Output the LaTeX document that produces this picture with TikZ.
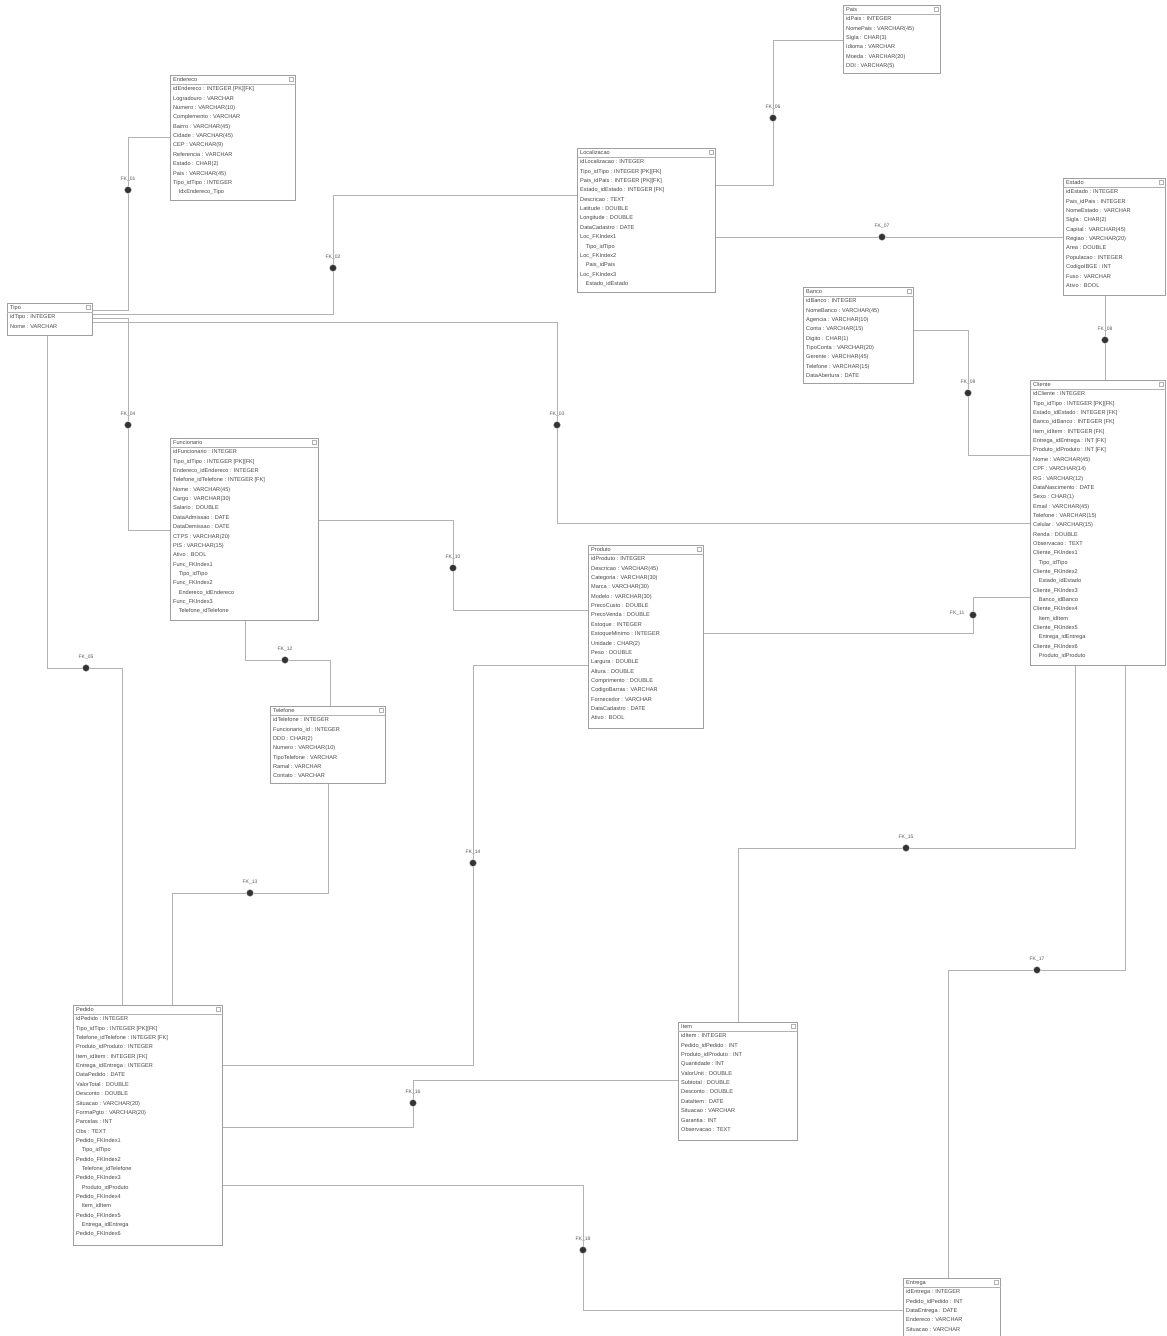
\documentclass[tikz,border=0pt]{standalone}
\usepackage{fontspec}
\setmainfont{Liberation Sans}
\begin{document}
\begin{tikzpicture}[x=1pt,y=-1pt,
  tblbox/.style={draw=gray!75, fill=white, line width=0.7pt, inner sep=0pt},
  tbltext/.style={align=left, inner sep=1pt, text=black!72, font=\fontsize{5.6}{9.35}\selectfont},
  tbltitle/.style={inner sep=1pt, text=black!72, font=\fontsize{5.6}{6}\selectfont},
  conn/.style={draw=gray!60, line width=0.7pt},
  mk/.style={circle, fill=black!80, draw=gray!40, minimum size=7pt, inner sep=0pt},
  mklabel/.style={font=\fontsize{5}{5.5}\selectfont, text=black!65, inner sep=0.5pt}]
\useasboundingbox (0,0) rectangle (1167,1336);
\fill[white] (0,0) rectangle (1167,1336);
\newcommand{\ertable}[7]{%
  \node[tblbox, minimum width=#4pt, minimum height=#5pt, anchor=north west] (#1) at (#2,#3) {};
  \draw[gray!60, line width=0.4pt] ([yshift=-9pt]#1.north west) -- ([yshift=-9pt]#1.north east);
  \draw[gray!60, line width=0.4pt] ([xshift=-7pt,yshift=-2pt]#1.north east) rectangle ++(4.5pt,-4.5pt);
  \node[tbltitle, anchor=north west] (#1-h) at ([xshift=2pt,yshift=-1.2pt]#1.north west) {#6};
  \node[tbltext, anchor=north west] (#1-t) at ([xshift=2pt,yshift=-10.6pt]#1.north west) {#7};}

% ---------------- tables ----------------
\ertable{tipo}{7}{303}{85}{32}{Tipo}{idTipo : INTEGER\\Nome : VARCHAR}
\ertable{endr}{170}{75}{125}{125}{Endereco}{idEndereco : INTEGER [PK][FK]\\Logradouro : VARCHAR\\Numero : VARCHAR(10)\\Complemento : VARCHAR\\Bairro : VARCHAR(45)\\Cidade : VARCHAR(45)\\CEP : VARCHAR(9)\\Referencia : VARCHAR\\Estado : CHAR(2)\\Pais : VARCHAR(45)\\Tipo\_idTipo : INTEGER\\\quad IdxEndereco\_Tipo}
\ertable{loc}{577}{148}{138}{144}{Localizacao}{idLocalizacao : INTEGER\\Tipo\_idTipo : INTEGER [PK][FK]\\Pais\_idPais : INTEGER [PK][FK]\\Estado\_idEstado : INTEGER [FK]\\Descricao : TEXT\\Latitude : DOUBLE\\Longitude : DOUBLE\\DataCadastro : DATE\\Loc\_FKIndex1\\\quad Tipo\_idTipo\\Loc\_FKIndex2\\\quad Pais\_idPais\\Loc\_FKIndex3\\\quad Estado\_idEstado}
\ertable{pais}{843}{5}{97}{68}{Pais}{idPais : INTEGER\\NomePais : VARCHAR(45)\\Sigla : CHAR(3)\\Idioma : VARCHAR\\Moeda : VARCHAR(20)\\DDI : VARCHAR(5)}
\ertable{est}{1063}{178}{102}{117}{Estado}{idEstado : INTEGER\\Pais\_idPais : INTEGER\\NomeEstado : VARCHAR\\Sigla : CHAR(2)\\Capital : VARCHAR(45)\\Regiao : VARCHAR(20)\\Area : DOUBLE\\Populacao : INTEGER\\CodigoIBGE : INT\\Fuso : VARCHAR\\Ativo : BOOL}
\ertable{banco}{803}{287}{110}{96}{Banco}{idBanco : INTEGER\\NomeBanco : VARCHAR(45)\\Agencia : VARCHAR(10)\\Conta : VARCHAR(15)\\Digito : CHAR(1)\\TipoConta : VARCHAR(20)\\Gerente : VARCHAR(45)\\Telefone : VARCHAR(15)\\DataAbertura : DATE}
\ertable{cli}{1030}{380}{135}{285}{Cliente}{idCliente : INTEGER\\Tipo\_idTipo : INTEGER [PK][FK]\\Estado\_idEstado : INTEGER [FK]\\Banco\_idBanco : INTEGER [FK]\\Item\_idItem : INTEGER [FK]\\Entrega\_idEntrega : INT [FK]\\Produto\_idProduto : INT [FK]\\Nome : VARCHAR(45)\\CPF : VARCHAR(14)\\RG : VARCHAR(12)\\DataNascimento : DATE\\Sexo : CHAR(1)\\Email : VARCHAR(45)\\Telefone : VARCHAR(15)\\Celular : VARCHAR(15)\\Renda : DOUBLE\\Observacao : TEXT\\Cliente\_FKIndex1\\\quad Tipo\_idTipo\\Cliente\_FKIndex2\\\quad Estado\_idEstado\\Cliente\_FKIndex3\\\quad Banco\_idBanco\\Cliente\_FKIndex4\\\quad Item\_idItem\\Cliente\_FKIndex5\\\quad Entrega\_idEntrega\\Cliente\_FKIndex6\\\quad Produto\_idProduto}
\ertable{func}{170}{438}{148}{182}{Funcionario}{idFuncionario : INTEGER\\Tipo\_idTipo : INTEGER [PK][FK]\\Endereco\_idEndereco : INTEGER\\Telefone\_idTelefone : INTEGER [FK]\\Nome : VARCHAR(45)\\Cargo : VARCHAR(30)\\Salario : DOUBLE\\DataAdmissao : DATE\\DataDemissao : DATE\\CTPS : VARCHAR(20)\\PIS : VARCHAR(15)\\Ativo : BOOL\\Func\_FKIndex1\\\quad Tipo\_idTipo\\Func\_FKIndex2\\\quad Endereco\_idEndereco\\Func\_FKIndex3\\\quad Telefone\_idTelefone}
\ertable{prod}{588}{545}{115}{183}{Produto}{idProduto : INTEGER\\Descricao : VARCHAR(45)\\Categoria : VARCHAR(30)\\Marca : VARCHAR(30)\\Modelo : VARCHAR(30)\\PrecoCusto : DOUBLE\\PrecoVenda : DOUBLE\\Estoque : INTEGER\\EstoqueMinimo : INTEGER\\Unidade : CHAR(2)\\Peso : DOUBLE\\Largura : DOUBLE\\Altura : DOUBLE\\Comprimento : DOUBLE\\CodigoBarras : VARCHAR\\Fornecedor : VARCHAR\\DataCadastro : DATE\\Ativo : BOOL}
\ertable{tel}{270}{706}{115}{77}{Telefone}{idTelefone : INTEGER\\Funcionario\_id : INTEGER\\DDD : CHAR(2)\\Numero : VARCHAR(10)\\TipoTelefone : VARCHAR\\Ramal : VARCHAR\\Contato : VARCHAR}
\ertable{ped}{73}{1005}{149}{240}{Pedido}{idPedido : INTEGER\\Tipo\_idTipo : INTEGER [PK][FK]\\Telefone\_idTelefone : INTEGER [FK]\\Produto\_idProduto : INTEGER\\Item\_idItem : INTEGER [FK]\\Entrega\_idEntrega : INTEGER\\DataPedido : DATE\\ValorTotal : DOUBLE\\Desconto : DOUBLE\\Situacao : VARCHAR(20)\\FormaPgto : VARCHAR(20)\\Parcelas : INT\\Obs : TEXT\\Pedido\_FKIndex1\\\quad Tipo\_idTipo\\Pedido\_FKIndex2\\\quad Telefone\_idTelefone\\Pedido\_FKIndex3\\\quad Produto\_idProduto\\Pedido\_FKIndex4\\\quad Item\_idItem\\Pedido\_FKIndex5\\\quad Entrega\_idEntrega\\Pedido\_FKIndex6}
\ertable{item}{678}{1022}{119}{118}{Item}{idItem : INTEGER\\Pedido\_idPedido : INT\\Produto\_idProduto : INT\\Quantidade : INT\\ValorUnit : DOUBLE\\Subtotal : DOUBLE\\Desconto : DOUBLE\\DataItem : DATE\\Situacao : VARCHAR\\Garantia : INT\\Observacao : TEXT}
\ertable{entr}{903}{1278}{97}{64}{Entrega}{idEntrega : INTEGER\\Pedido\_idPedido : INT\\DataEntrega : DATE\\Endereco : VARCHAR\\Situacao : VARCHAR}

% ---------------- markers ----------------
\foreach \n/\x/\y/\l in {m1/128/190/FK\_01, m2/333/268/FK\_02, m3/557/425/FK\_03, m4/128/425/FK\_04,
  m5/86/668/FK\_05, m6/773/118/FK\_06, m7/882/237/FK\_07, m8/1105/340/FK\_08, m9/968/393/FK\_09,
  m10/453/568/FK\_10, m12/285/660/FK\_12, m13/250/893/FK\_13, m14/473/863/FK\_14,
  m15/906/848/FK\_15, m16/413/1103/FK\_16, m17/1037/970/FK\_17, m18/583/1250/FK\_18}
  {\node[mk] (\n) at (\x,\y) {};
   \node[mklabel, anchor=south] at ([yshift=4pt]\n.north) {\l};}
\node[mk] (m11) at (973,615) {};
\node[mklabel, anchor=east] at (965,613) {FK\_11};

% ---------------- connectors ----------------
\draw[conn] (tipo.east |- 0,310) -| (m1) |- (endr.west |- 0,137);
\draw[conn] (tipo.east |- 0,314) -| (m2) |- (loc.west |- 0,195);
\draw[conn] (tipo.east |- 0,322) -| (m3) |- (cli.west |- 0,523);
\draw[conn] (tipo.east |- 0,318) -| (m4) |- (func.west |- 0,530);
\draw[conn] (tipo.south -| 47,0) |- (m5) -| (ped.north -| 122,0);
\draw[conn] (loc.east |- 0,185) -| (m6) |- (pais.west |- 0,40);
\draw[conn] (loc.east |- 0,237) -- (m7) -- (est.west |- 0,237);
\draw[conn] (est.south -| 1105,0) -- (m8) -- (cli.north -| 1105,0);
\draw[conn] (banco.east |- 0,330) -| (m9) |- (cli.west |- 0,455);
\draw[conn] (func.east |- 0,520) -| (m10) |- (prod.west |- 0,610);
\draw[conn] (prod.east |- 0,633) -| (m11) |- (cli.west |- 0,597);
\draw[conn] (func.south -| 245,0) |- (m12) -| (tel.north -| 330,0);
\draw[conn] (tel.south -| 328,0) |- (m13) -| (ped.north -| 172,0);
\draw[conn] (prod.west |- 0,665) -| (m14) |- (ped.east |- 0,1065);
\draw[conn] (item.north -| 738,0) |- (m15) -| (cli.south -| 1075,0);
\draw[conn] (item.west |- 0,1080) -| (m16) |- (ped.east |- 0,1127);
\draw[conn] (entr.north -| 948,0) |- (m17) -| (cli.south -| 1125,0);
\draw[conn] (ped.east |- 0,1185) -| (m18) |- (entr.west |- 0,1310);
\end{tikzpicture}
\end{document}
